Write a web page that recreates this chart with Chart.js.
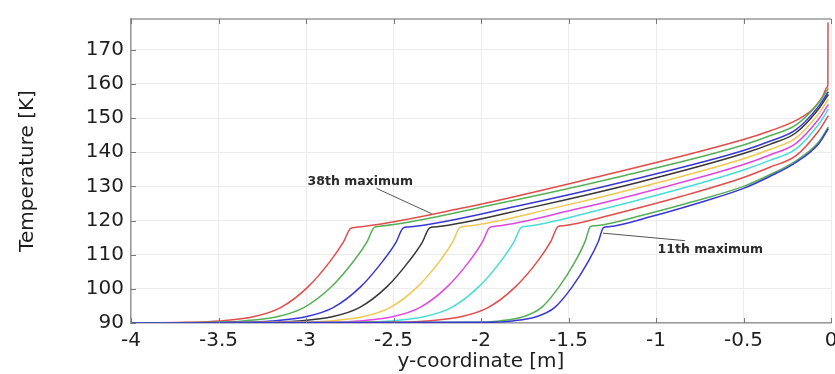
<!DOCTYPE html>
<html>
<head>
<meta charset="utf-8">
<script src="https://cdn.jsdelivr.net/npm/chart.js@4/dist/chart.umd.min.js"></script>
<style>
  html, body { margin: 0; padding: 0; background: #ffffff; }
  #wrap { width: 835px; height: 374px; }
</style>
</head>
<body>
<div id="wrap"><canvas id="chart" width="835" height="374"></canvas></div>
<script>
// Temperature profiles along the y-coordinate, one curve per 3rd maximum (11th ... 38th)
const seriesNames = ['11th', '14th', '17th', '20th', '23rd', '26th', '29th', '32nd', '35th', '38th'];

const pos11  = [-4, -1.96, -1.82, -1.68, -1.58, -1.48, -1.385, -1.33, -1.30, -1.27, -1.033, -0.767, -0.5, -0.35, -0.2, -0.07, -0.015];
const temp11 = [90, 90.2, 90.6, 91.9, 94.5, 100.5, 108.2, 113.8, 117.9, 118.2, 121.1, 125.0, 129.4, 132.9, 137.0, 142.5, 146.9];

const pos14  = [-4, -2.035, -1.895, -1.755, -1.655, -1.555, -1.46, -1.405, -1.375, -1.345, -1.083, -0.792, -0.5, -0.35, -0.2, -0.07, -0.015];
const temp14 = [90, 90.2, 90.6, 91.9, 94.5, 100.5, 108.2, 113.9, 118.2, 118.5, 121.5, 125.5, 130.0, 133.4, 137.5, 143.0, 147.4];

const pos17  = [-4, -2.51, -2.31, -2.11, -1.96, -1.805, -1.675, -1.60, -1.56, -1.53, -1.207, -0.853, -0.5, -0.35, -0.2, -0.07, -0.015];
const temp17 = [90, 90.2, 90.6, 91.9, 94.5, 100.5, 108.2, 114.0, 118.2, 118.5, 122.3, 127.1, 132.6, 135.6, 139.0, 146.3, 150.7];

const pos20  = [-4, -2.72, -2.52, -2.32, -2.17, -2.015, -1.885, -1.81, -1.77, -1.74, -1.347, -0.923, -0.5, -0.35, -0.2, -0.07, -0.015];
const temp20 = [90, 90.2, 90.6, 91.9, 94.5, 100.5, 108.2, 113.9, 118.0, 118.3, 122.8, 128.4, 134.8, 137.6, 141.0, 148.2, 152.6];

const pos23  = [-4, -2.9, -2.7, -2.5, -2.35, -2.195, -2.065, -1.99, -1.95, -1.92, -1.467, -0.983, -0.5, -0.35, -0.2, -0.07, -0.015];
const temp23 = [90, 90.2, 90.6, 91.9, 94.5, 100.5, 108.2, 113.9, 118.0, 118.3, 123.2, 129.4, 136.4, 139.2, 142.6, 149.7, 154.0];

const pos26  = [-4, -3.07, -2.87, -2.67, -2.52, -2.365, -2.235, -2.16, -2.12, -2.09, -1.58, -1.04, -0.5, -0.35, -0.2, -0.07, -0.015];
const temp26 = [90, 90.2, 90.6, 91.9, 94.5, 100.5, 108.2, 113.9, 118.0, 118.3, 123.7, 130.4, 138.1, 140.8, 144.2, 151.3, 155.5];

const pos29  = [-4, -3.245, -3.045, -2.845, -2.695, -2.54, -2.41, -2.335, -2.295, -2.265, -1.697, -1.098, -0.5, -0.35, -0.2, -0.07, -0.015];
const temp29 = [90, 90.2, 90.6, 91.9, 94.5, 100.5, 108.2, 113.7, 117.8, 118.1, 124.0, 131.2, 139.6, 142.3, 145.7, 152.7, 156.9];

const pos32  = [-4, -3.395, -3.195, -2.995, -2.845, -2.69, -2.56, -2.485, -2.445, -2.415, -1.797, -1.148, -0.5, -0.35, -0.2, -0.07, -0.015];
const temp32 = [90, 90.2, 90.6, 91.9, 94.5, 100.5, 108.2, 113.7, 117.8, 118.1, 124.2, 131.8, 140.5, 143.2, 146.6, 153.5, 157.7];

const pos35  = [-4, -3.56, -3.36, -3.16, -3.01, -2.855, -2.725, -2.65, -2.61, -2.58, -1.907, -1.203, -0.5, -0.35, -0.2, -0.07, -0.015];
const temp35 = [90, 90.2, 90.6, 91.9, 94.6, 100.6, 108.3, 113.9, 118.0, 118.3, 124.9, 132.9, 142.1, 144.8, 148.0, 154.5, 158.7];

const pos38  = [-4, -3.695, -3.495, -3.295, -3.145, -2.99, -2.86, -2.785, -2.745, -2.715, -2.12, -1.43, -0.5, -0.35, -0.2, -0.1, -0.045, -0.022, -0.018, -0.017];
const temp38 = [90, 90.2, 90.6, 91.9, 94.5, 100.5, 108.2, 113.8, 117.7, 118.0, 123.5, 131.6, 143.7, 146.2, 149.3, 152.8, 156.6, 159.0, 159.5, 178.0];

const xTickValues = [-4, -3.5, -3, -2.5, -2, -1.5, -1, -0.5, 0];
const yTickValues = [90, 100, 110, 120, 130, 140, 150, 160, 170];

const positions = [pos11, pos14, pos17, pos20, pos23, pos26, pos29, pos32, pos35, pos38];
const temperatures = [temp11, temp14, temp17, temp20, temp23, temp26, temp29, temp32, temp35, temp38];
const lineColors = [
  'rgb(55,55,215)',   // blue
  'rgb(85,175,85)',   // green
  'rgb(228,75,75)',   // red
  'rgb(70,222,214)',  // cyan
  'rgb(226,70,226)',  // magenta
  'rgb(240,200,80)',  // yellow
  'rgb(55,55,55)',    // black
  'rgb(55,55,215)',   // blue
  'rgb(85,175,85)',   // green
  'rgb(228,75,75)'    // red
];

const datasets = seriesNames.map((name, i) => ({
  label: name + ' maximum',
  data: positions[i].map((x, k) => ({ x: x, y: temperatures[i][k] })),
  borderColor: lineColors[i],
  borderWidth: 1.5,
  pointRadius: 0,
  fill: false,
  cubicInterpolationMode: 'monotone'
}));

// Frame on top, inward tick marks, and the two callouts
const framePlugin = {
  id: 'frameAndNotes',
  afterDatasetsDraw(chart) {
    const { ctx, chartArea: a, scales: { x, y } } = chart;
    ctx.save();
    ctx.strokeStyle = '#9a9a9a';
    ctx.lineWidth = 1.5;
    ctx.beginPath();
    ctx.moveTo(a.left, a.top);
    ctx.lineTo(a.right, a.top);
    ctx.stroke();

    ctx.strokeStyle = '#777777';
    ctx.lineWidth = 1;
    ctx.beginPath();
    xTickValues.forEach(v => {
      const px = Math.round(x.getPixelForValue(v)) + 0.5;
      ctx.moveTo(px, a.bottom); ctx.lineTo(px, a.bottom - 5);
      ctx.moveTo(px, a.top); ctx.lineTo(px, a.top + 5);
    });
    yTickValues.forEach(v => {
      const py = Math.round(y.getPixelForValue(v)) + 0.5;
      ctx.moveTo(a.left, py); ctx.lineTo(a.left + 5, py);
    });
    ctx.stroke();

    const notes = [
      { text: '38th maximum', tx: -2.69, ty: 131.4, x1: -2.597, y1: 129.4, x2: -2.282, y2: 122.0 },
      { text: '11th maximum', tx: -0.69, ty: 111.3, x1: -0.834, y1: 114.1, x2: -1.303, y2: 116.3 }
    ];
    ctx.strokeStyle = '#555555';
    ctx.lineWidth = 1;
    notes.forEach(n => {
      ctx.beginPath();
      ctx.moveTo(x.getPixelForValue(n.x1), y.getPixelForValue(n.y1));
      ctx.lineTo(x.getPixelForValue(n.x2), y.getPixelForValue(n.y2));
      ctx.stroke();
      ctx.fillStyle = '#2a2a2a';
      ctx.font = 'bold 12.5px "DejaVu Sans"';
      ctx.textAlign = 'center';
      ctx.textBaseline = 'middle';
      ctx.fillText(n.text, x.getPixelForValue(n.tx), y.getPixelForValue(n.ty));
    });
    ctx.restore();
  }
};

new Chart(document.getElementById('chart'), {
  type: 'line',
  data: { datasets: datasets },
  options: {
    responsive: false,
    animation: false,
    devicePixelRatio: 1,
    layout: { padding: { left: 0, right: 4, top: 13, bottom: 0 } },
    plugins: { legend: { display: false }, tooltip: { enabled: false } },
    scales: {
      x: {
        type: 'linear',
        min: -4,
        max: 0,
        afterBuildTicks: s => { s.ticks = xTickValues.map(v => ({ value: v })); },
        afterFit: s => { s.height = 51; s.paddingLeft = 0; s.paddingRight = 0; },
        ticks: {
          color: '#1e1e1e', font: { family: 'DejaVu Sans', size: 20 }, padding: 6,
          maxRotation: 0, autoSkip: false,
          callback: v => String(v)
        },
        grid: { color: '#ececec', lineWidth: 1, drawTicks: false },
        border: { display: true, color: '#9a9a9a', width: 1.5 },
        title: { display: true, text: 'y-coordinate [m]', color: '#1e1e1e', font: { family: 'DejaVu Sans', size: 20 }, padding: { top: 0, bottom: 0 } }
      },
      y: {
        type: 'linear',
        min: 90,
        max: 179,
        afterBuildTicks: s => { s.ticks = yTickValues.map(v => ({ value: v })); },
        afterFit: s => { s.width = 131; },
        ticks: { color: '#1e1e1e', font: { family: 'DejaVu Sans', size: 20 }, padding: 7 },
        grid: { color: '#ececec', lineWidth: 1, drawTicks: false },
        border: { display: true, color: '#9a9a9a', width: 1.5 },
        title: { display: true, text: 'Temperature [K]', color: '#1e1e1e', font: { family: 'DejaVu Sans', size: 20 }, padding: { top: 16, bottom: 0 } }
      }
    }
  },
  plugins: [framePlugin]
});
</script>
</body>
</html>
